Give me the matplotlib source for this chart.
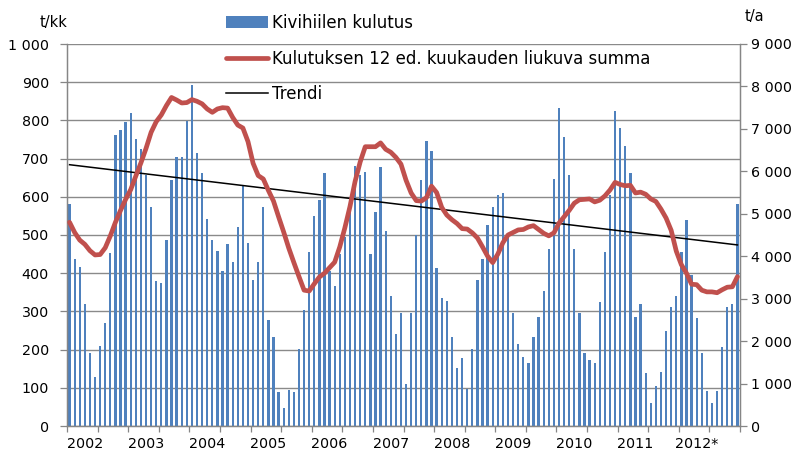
import matplotlib
matplotlib.use("Agg")
import matplotlib.pyplot as plt
import numpy as np

# ---------------- data ----------------
years = ["2002", "2003", "2004", "2005", "2006", "2007", "2008", "2009", "2010", "2011", "2012*"]

kulutus = [
    582, 437, 416, 319, 190, 127, 210, 269, 454, 761, 774, 796,   # 2002
    820, 752, 724, 658, 573, 379, 374, 487, 643, 703, 703, 799,   # 2003
    892, 715, 661, 542, 488, 459, 405, 477, 430, 522, 628, 480,   # 2004
    381, 430, 573, 277, 234, 90, 46, 94, 90, 201, 304, 455,       # 2005
    551, 592, 661, 407, 367, 451, 494, 599, 681, 656, 665, 451,   # 2006
    560, 678, 510, 341, 241, 297, 111, 297, 500, 645, 745, 720,   # 2007
    413, 334, 328, 232, 151, 178, 98, 201, 381, 437, 527, 573,    # 2008
    606, 611, 500, 297, 214, 181, 164, 232, 286, 353, 463, 647,   # 2009
    833, 757, 656, 464, 295, 190, 172, 164, 324, 455, 604, 825,   # 2010
    779, 732, 661, 286, 319, 139, 59, 105, 142, 248, 311, 341,    # 2011
    455, 538, 394, 282, 190, 92, 59, 92, 207, 311, 319, 580,      # 2012
]

liukuva_summa = [
    4800, 4560, 4380, 4280, 4130, 4030, 4040, 4200, 4480, 4800, 5080, 5340,
    5570, 5890, 6200, 6540, 6920, 7170, 7330, 7550, 7740, 7680, 7610, 7620,
    7690, 7650, 7590, 7470, 7390, 7470, 7500, 7490, 7270, 7090, 7020, 6700,
    6190, 5900, 5820, 5550, 5300, 4930, 4570, 4190, 3850, 3520, 3200, 3180,
    3350, 3510, 3600, 3730, 3860, 4220, 4670, 5170, 5760, 6220, 6580, 6580,
    6580, 6670, 6520, 6450, 6330, 6170, 5790, 5490, 5310, 5300, 5380, 5650,
    5500, 5150, 4970, 4860, 4770, 4650, 4640, 4550, 4430, 4220, 4000, 3850,
    4050, 4320, 4500, 4560, 4620, 4630, 4690, 4720, 4630, 4540, 4480, 4550,
    4780, 4930, 5080, 5250, 5330, 5340, 5350, 5280, 5320, 5420, 5560, 5740,
    5690, 5660, 5670, 5490, 5510, 5460, 5350, 5290, 5110, 4900, 4610, 4120,
    3800, 3600, 3340, 3330, 3200, 3160, 3160, 3140, 3210, 3270, 3280, 3520,
]

trendi = [684, 474]  # trend at first and last month (t/kk)

left_ticks = [0, 100, 200, 300, 400, 500, 600, 700, 800, 900, 1000]
left_labels = ["0", "100", "200", "300", "400", "500", "600", "700", "800", "900", "1 000"]
right_ticks = [0, 1000, 2000, 3000, 4000, 5000, 6000, 7000, 8000, 9000]
right_labels = ["0", "1 000", "2 000", "3 000", "4 000", "5 000", "6 000", "7 000", "8 000", "9 000"]

labels = ["Kivihiilen kulutus", "Kulutuksen 12 ed. kuukauden liukuva summa", "Trendi"]

# ---------------- figure ----------------
W, H = 795, 454
fig = plt.figure(figsize=(W / 100, H / 100), dpi=100)
ax = fig.add_axes([67 / W, 1 - 426 / H, (740 - 67) / W, (426 - 44) / H])
ax2 = ax.twinx()

n = len(kulutus)
x = np.arange(n)

blue = "#4F81BD"
red = "#C0504D"
grid_c = "#8A8A8A"
spine_c = "#868686"

bars = ax.bar(x, kulutus, width=0.45, color=blue, zorder=2, label=labels[0])
tr, = ax.plot([x[0], x[-1]], trendi, color="black", lw=1.1, zorder=3, label=labels[2])
rl, = ax2.plot(x, liukuva_summa, color=red, lw=3.4, solid_capstyle="round",
               solid_joinstyle="round", zorder=4, label=labels[1])

ax.set_xlim(-0.5, n - 0.5)
ax.set_ylim(0, 1000)
ax2.set_ylim(0, 9000)

ax.set_yticks(left_ticks)
ax.set_yticklabels(left_labels)
ax2.set_yticks(right_ticks)
ax2.set_yticklabels(right_labels)

ax.yaxis.grid(True, color=grid_c, lw=1.0, zorder=0)
ax.set_axisbelow(True)

# x ticks: marks every 6 months, year labels offset into the year
ax.set_xticks(np.arange(-0.5, n, 6))
ax.set_xticklabels([])
ax.set_xticks(np.arange(len(years)) * 12 + 3, minor=True)
ax.set_xticklabels(years, minor=True)
ax.tick_params(axis="x", which="major", direction="out", length=4, color=spine_c, width=0.9)
ax.tick_params(axis="x", which="minor", length=0, pad=8, labelsize=10.3)
ax.tick_params(axis="y", direction="out", length=5, color=spine_c, width=0.9,
               pad=8, labelsize=10.3)
ax2.tick_params(axis="y", direction="out", length=5, color=spine_c, width=0.9,
                pad=3, labelsize=10.3)

for a in (ax, ax2):
    a.spines["top"].set_visible(False)
    for s in ("left", "right", "bottom"):
        a.spines[s].set_color(spine_c)
        a.spines[s].set_linewidth(0.9)

fig.text(40 / W, 1 - 23 / H, "t/kk", fontsize=10.5, va="center", ha="left")
fig.text(745 / W, 1 - 17 / H, "t/a", fontsize=10.5, va="center", ha="left")

leg = fig.legend([bars, rl, tr], labels, loc="upper left",
                 bbox_to_anchor=(226 / W, 1 - 14 / H), bbox_transform=fig.transFigure,
                 frameon=False, fontsize=12, handlelength=2.5, handletextpad=0.25,
                 labelspacing=1.05, borderpad=0, borderaxespad=0)

fig.savefig("out.png", dpi=100)
